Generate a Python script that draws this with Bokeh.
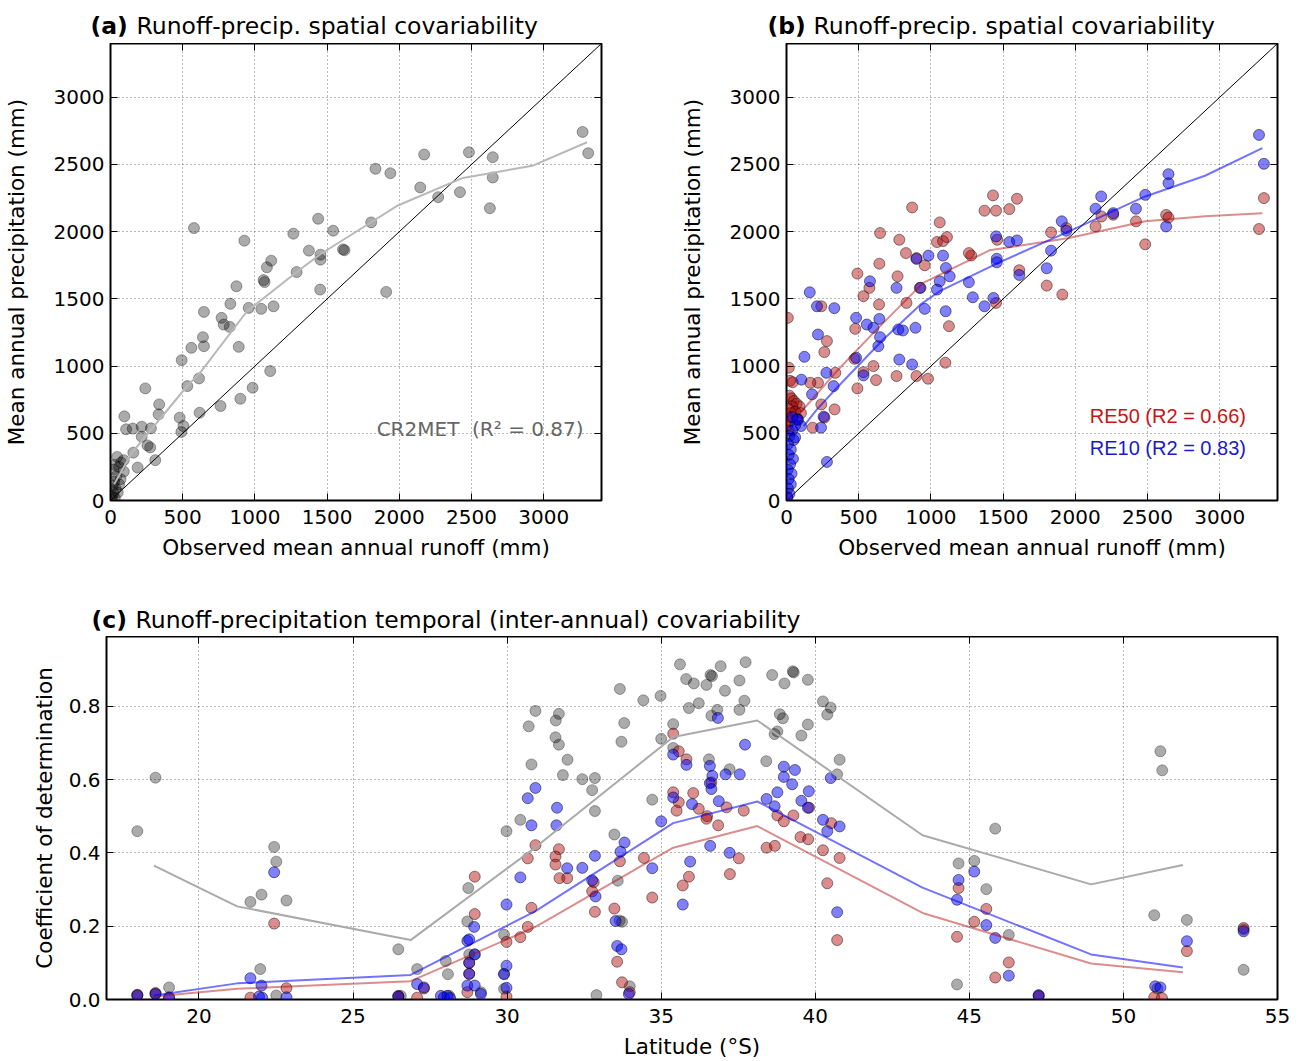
from bokeh.plotting import figure
from bokeh.models import (Label, LinearAxis, CustomJSTickFormatter, FixedTicker,
                          NumeralTickFormatter, Range1d)
from bokeh.core.properties import value
from bokeh.layouts import column, row
from bokeh.embed import file_html
from bokeh.resources import INLINE

# ---------------- data ----------------
# (a) CR2MET: observed runoff vs mean annual precipitation (mm)
a_runoff = [3269, 3308, 2172, 2482, 2647, 2647, 1835, 1938, 2145, 2269, 2420, 2627, 1805, 1438, 1542, 1266,
            578, 927, 1374, 1454, 1454, 1610, 1620, 1289, 1113, 1083, 1060, 1067, 872, 830, 1452, 1909,
            957, 1044, 1129, 647, 769, 784, 826, 640, 647, 560, 888, 493, 1106, 532, 613, 984, 899, 762,
            617, 241, 337, 333, 96, 479, 505, 491, 108, 154, 216, 280, 216, 256, 275, 310, 158, 188,
            46, 74, 92, 92, 60, 30, 20, 40, 25, 60, 15, 35, 50, 20, 10, 30, 8, 70]
a_precip = [2742, 2584, 2574, 2591, 2554, 2403, 2468, 2435, 2329, 2257, 2294, 2175, 2069, 2096, 2007, 1985,
            2027, 1933, 1859, 1829, 1792, 1868, 1862, 1700, 1784, 1735, 1640, 1625, 1594, 1463, 1569, 1552,
            1433, 1426, 1445, 1403, 1359, 1309, 1292, 1215, 1148, 1136, 1143, 1044, 963, 851, 908, 839, 757, 703,
            653, 834, 715, 641, 626, 616, 554, 510, 530, 535, 549, 537, 475, 410, 395, 300, 356, 245,
            324, 282, 300, 215, 250, 265, 230, 180, 140, 120, 110, 90, 60, 55, 30, 20, 5, 160]
a_line_runoff = [25, 145, 530, 620, 945, 1290, 1450, 1805, 1990, 2440, 2920, 3300]
a_line_precip = [120, 350, 850, 950, 1408, 1700, 1830, 2070, 2195, 2400, 2490, 2665]

# (b) RE50 (red) and RE10 (blue)
b_red_runoff = [3306, 3272, 2629, 2645, 2420, 2484, 2140, 2181, 2262, 1938, 1832, 1910, 1802, 1430, 1371, 1451,
                1543, 1596, 870, 1061, 648, 781, 1042, 1084, 1111, 827, 900, 957, 1279, 1263, 1459, 1612,
                643, 491, 769, 533, 574, 831, 923, 641, 241, 476, 280, 262, 338, 471, 491, 602, 533, 620,
                762, 900, 980, 1100, 1125, 1451, 218, 165, 333, 181, 241, 9, 16, 263, 24, 43,
                20, 35, 50, 70, 90, 40, 15, 30, 60, 10, 25, 100, 75, 5, 15, 5]
b_red_precip = [2250, 2020, 2125, 2105, 2077, 1906, 2039, 2113, 2126, 2027, 1995, 1532, 1599, 2270, 2156, 2156,
                2168, 2245, 2180, 2069, 1990, 1940, 1923, 1930, 1960, 1841, 1804, 1750, 1822, 1841, 1940, 1713,
                1762, 1688, 1668, 1520, 1582, 1470, 1582, 1458, 1445, 1277, 1186, 1104, 950, 1054, 834, 1000, 955, 896,
                926, 926, 906, 1025, 1297, 1470, 876, 876, 678, 542, 715, 1359, 988, 617, 890, 880,
                780, 760, 740, 720, 700, 700, 680, 650, 660, 620, 590, 650, 610, 560, 520, 30]
b_blue_runoff = [3272, 3306, 2645, 2645, 2484, 2179, 2140, 2420, 2262, 1906, 1938, 1832, 1802, 2629, 1451, 1543,
                 1596, 1456, 1456, 1612, 1263, 1290, 1371, 1433, 1104, 1130, 1061, 1042, 1084, 983, 900, 928,
                 957, 1102, 578, 762, 643, 556, 602, 648, 636, 482, 774, 806, 893, 781, 870, 533, 482, 161,
                 211, 331, 218, 124, 276, 326, 177, 73, 101, 257, 239, 280, 103,
                 60, 40, 20, 50, 10, 30, 15, 45, 25, 8, 35, 15, 30, 10, 20, 5, 60, 80, 40]
b_blue_precip = [2720, 2505, 2428, 2361, 2274, 2262, 2171, 2171, 2138, 2077, 2007, 1859, 1728, 2039, 1965, 1923,
                 1935, 1799, 1772, 1678, 1624, 1512, 1445, 1507, 1730, 1668, 1631, 1569, 1822, 1822, 1797, 1582,
                 1426, 1408, 1631, 1582, 1351, 1309, 1285, 1215, 1148, 1359, 1272, 1265, 1285, 1049, 1012, 931, 1062, 1549,
                 1445, 1431, 1235, 1069, 950, 851, 790, 604, 554, 624, 542, 287, 899,
                 560, 520, 480, 450, 420, 380, 340, 310, 270, 230, 200, 160, 120, 90, 50, 20, 470, 600, 620]
b_red_line_runoff = [96, 349, 602, 820, 946, 1405, 1956, 2484, 2898, 3295]
b_red_line_precip = [653, 963, 1247, 1483, 1619, 1861, 1953, 2077, 2114, 2138]
b_blue_line_runoff = [119, 211, 349, 670, 934, 1061, 1474, 1956, 2484, 2898, 3295]
b_blue_line_precip = [554, 678, 839, 1198, 1463, 1557, 1772, 2002, 2262, 2416, 2621]

one_to_one = [0, 3400]

# (c) coefficient of determination vs latitude
c_gray_lat = [18.0, 18.59, 19.03, 18.0, 18.59, 22.44, 22.51, 22.03, 21.67, 22.84, 21.99, 22.51, 26.47, 27.08, 26.47,
              28.01, 28.08, 28.74, 28.71, 28.95, 29.15,
              35.61, 36.93, 37.74, 35.81, 36.06, 36.47, 36.6, 36.65, 37.07, 37.54, 38.6, 39.0, 39.27, 39.3, 39.76,
              33.66, 34.42, 34.98, 35.9, 36.22, 36.82, 36.63, 37.54, 37.7, 38.85, 38.95, 38.77, 39.55, 39.76,
              40.25, 40.5, 40.39, 40.79, 40.71, 30.92, 31.68, 31.58, 30.7, 31.57, 31.68, 31.96, 30.79, 31.81,
              32.44, 32.85, 32.76, 32.85, 33.8, 33.71, 34.71, 35.39, 35.0, 35.39, 36.55, 37.22, 38.41, 38.68,
              30.43, 29.98, 33.48, 33.59, 33.73, 29.9, 33.98, 29.9,
              45.84, 44.65, 45.16, 45.55, 46.28, 44.6, 51.0, 51.2, 51.26, 52.06, 53.9, 53.9, 47.25, 51.1,
              28.77, 29.9, 28.12, 33.65, 26.55, 32.9]
c_gray_val = [0.459, 0.605, 0.033, 0.011, 0.015, 0.416, 0.376, 0.286, 0.266, 0.270, 0.083, 0.011, 0.137, 0.083, 0.008,
              0.105, 0.069, 0.304, 0.213, 0.123, 0.02,
              0.914, 0.909, 0.920, 0.874, 0.862, 0.858, 0.885, 0.882, 0.842, 0.870, 0.885, 0.862, 0.895, 0.892, 0.872,
              0.847, 0.816, 0.828, 0.795, 0.808, 0.790, 0.774, 0.790, 0.815, 0.778, 0.767, 0.731, 0.72, 0.75,
              0.813, 0.796, 0.777, 0.654, 0.614, 0.787, 0.779, 0.761, 0.745, 0.715, 0.695, 0.654, 0.641, 0.612,
              0.601, 0.604, 0.571, 0.514, 0.754, 0.703, 0.545, 0.751, 0.711, 0.686, 0.655, 0.628, 0.650, 0.724,
              0.490, 0.459, 0.450, 0.324, 0.212, 0.177, 0.036, 0.029,
              0.466, 0.371, 0.378, 0.301, 0.176, 0.041, 0.230, 0.677, 0.625, 0.217, 0.081, 0.191, 0.012, 0.03,
              0.123, 0.07, 0.01, 0.215, 0.01, 0.012]
c_red_lat = [18.0, 18.59, 19.03, 22.44, 22.84, 21.67, 27.3, 26.47, 27.08, 28.95, 28.95, 28.77, 28.77, 28.71,
             35.39, 35.57, 35.82, 35.39, 35.57, 35.5, 36.04, 36.22, 36.49, 36.47, 36.85, 37.12, 36.63, 37.68,
             37.52, 37.23, 35.9, 35.7, 34.71, 38.42, 38.69, 38.77, 38.98, 39.29, 39.52, 39.77, 39.8, 40.25,
             40.52, 40.79, 40.39, 40.71, 30.92, 30.67, 31.68, 31.57, 31.57, 31.7, 31.95, 32.81, 32.85, 32.76,
             33.66, 34.44, 30.79, 30.67, 30.43, 29.98, 33.48, 33.57, 33.73, 33.98, 29.98,
             44.65, 44.6, 45.16, 45.55, 46.28, 45.84, 47.25, 51.0, 51.25, 52.06, 53.9]
c_red_val = [0.013, 0.018, 0.004, 0.207, 0.031, 0.005, 0.03, 0.01, 0.005, 0.335, 0.233, 0.10, 0.07, 0.02,
             0.725, 0.677, 0.655, 0.565, 0.538, 0.515, 0.563, 0.52, 0.5, 0.493, 0.475, 0.524, 0.592, 0.515,
             0.385, 0.342, 0.335, 0.311, 0.278, 0.414, 0.419, 0.502, 0.486, 0.502, 0.443, 0.437, 0.523, 0.407,
             0.481, 0.386, 0.317, 0.162, 0.421, 0.385, 0.41, 0.39, 0.368, 0.331, 0.331, 0.32, 0.239, 0.295,
             0.377, 0.386, 0.25, 0.198, 0.17, 0.157, 0.248, 0.103, 0.047, 0.02, 0.008,
             0.304, 0.171, 0.212, 0.247, 0.101, 0.06, 0.009, 0.006, 0.004, 0.132, 0.195]
c_blue_lat = [18.0, 18.59, 19.03, 22.44, 21.67, 22.03, 21.95, 22.05, 22.84, 27.08, 27.3, 26.47, 27.85, 27.95,
              28.06, 28.15, 28.93, 28.71, 28.95, 28.77, 28.77, 28.71, 29.15, 28.95,
              30.92, 30.67, 31.62, 31.6, 30.79, 30.43, 31.95, 32.44, 32.85, 32.87, 33.81, 33.68, 34.71, 35.0,
              35.39, 35.82, 36.58, 36.66, 37.09, 37.55, 37.72, 36.84, 36.58, 36.63, 36.0, 36.87, 35.39, 35.94,
              36.59, 37.22, 35.70, 38.98, 39.34, 38.98, 39.25, 39.79, 39.55, 38.42, 38.77, 38.68, 39.76, 40.25,
              40.39, 40.79, 40.71, 40.5, 29.98, 29.98, 29.9, 29.98, 33.52, 33.57, 33.71, 33.95, 32.76,
              44.65, 45.16, 44.6, 45.55, 45.84, 46.28, 47.25, 51.03, 51.2, 52.06, 53.9, 28.77]
c_blue_val = [0.011, 0.015, 0.006, 0.347, 0.058, 0.038, 0.008, 0.005, 0.006, 0.042, 0.033, 0.008, 0.01, 0.006,
              0.01, 0.004, 0.198, 0.16, 0.123, 0.10, 0.07, 0.038, 0.015, 0.038,
              0.577, 0.549, 0.523, 0.475, 0.475, 0.333, 0.358, 0.359, 0.392, 0.281, 0.428, 0.403, 0.358, 0.486,
              0.668, 0.640, 0.637, 0.610, 0.614, 0.614, 0.695, 0.768, 0.590, 0.574, 0.533, 0.541, 0.551, 0.376,
              0.419, 0.400, 0.259, 0.635, 0.626, 0.607, 0.587, 0.568, 0.542, 0.547, 0.565, 0.527, 0.523, 0.490,
              0.459, 0.472, 0.238, 0.604, 0.259, 0.092, 0.069, 0.032, 0.214, 0.146, 0.137, 0.015, 0.325,
              0.326, 0.349, 0.272, 0.203, 0.168, 0.065, 0.011, 0.036, 0.033, 0.159, 0.186, 0.164]
c_line_lat = [18.54, 21.24, 26.87, 30.92, 35.39, 38.12, 43.48, 48.95, 51.93]
c_gray_line = [0.365, 0.254, 0.162, 0.415, 0.716, 0.761, 0.448, 0.314, 0.367]
c_red_line = [0.008, 0.029, 0.050, 0.198, 0.414, 0.473, 0.236, 0.098, 0.074]
c_blue_line = [0.011, 0.044, 0.067, 0.241, 0.481, 0.540, 0.305, 0.123, 0.087]

ab_ticks = [0, 500, 1000, 1500, 2000, 2500, 3000]
c_xticks = [20, 25, 30, 35, 40, 45, 50, 55]
c_yticks = [0.0, 0.2, 0.4, 0.6, 0.8]

# panel titles
title_letters = ["(a)", "(b)"]
title_texts = ["Runoff-precip. spatial covariability", "Runoff-precip. spatial covariability"]
title_c_letter = ["(c)"]
title_c_text = ["Runoff-precipitation temporal (inter-annual) covariability"]

# ---------------- styling helpers ----------------
FONT = "DejaVu Sans"
RED = "#b00000"
BLUE = "#0000ff"
W = 1299


def make_fig(width, height, xr, yr, ml, mr, mt, mb):
    p = figure(width=width, height=height, x_range=Range1d(*xr), y_range=Range1d(*yr),
               min_border_left=ml, min_border_right=mr, min_border_top=mt, min_border_bottom=mb,
               output_backend="svg", toolbar_location=None, tools="")
    p.outline_line_color = "black"
    p.outline_line_width = 2
    p.outline_line_alpha = 1
    p.background_fill_color = "white"
    p.border_fill_color = "white"
    return p


def style_axes(p, xticks, yticks, xlabel, ylabel, yfmt=None, ylab_standoff=20):
    xa = p.xaxis[0]
    ya = p.yaxis[0]
    xa.ticker = FixedTicker(ticks=xticks)
    ya.ticker = FixedTicker(ticks=yticks)
    if yfmt is not None:
        ya.formatter = yfmt
    xa.axis_label = xlabel
    ya.axis_label = ylabel
    for ax in (xa, ya):
        ax.major_tick_in = 7
        ax.major_tick_out = 0
        ax.minor_tick_line_color = None
        ax.axis_line_color = None
        ax.major_tick_line_color = "black"
        ax.major_label_text_font = FONT
        ax.major_label_text_font_size = "20px"
        ax.major_label_text_color = "black"
        ax.axis_label_text_font = FONT
        ax.axis_label_text_font_size = "21.5px"
        ax.axis_label_text_font_style = "normal"
        ax.axis_label_text_color = "black"
    xa.major_label_standoff = 9
    xa.axis_label_standoff = 8
    ya.major_label_standoff = 6
    ya.axis_label_standoff = ylab_standoff
    for g in (p.xgrid[0], p.ygrid[0]):
        g.grid_line_color = "black"
        g.grid_line_alpha = 0.55
        g.grid_line_dash = "1 3"
        g.grid_line_width = 1
    for side, ticks in (("above", xticks), ("right", yticks)):
        ax = LinearAxis(ticker=FixedTicker(ticks=ticks),
                        formatter=CustomJSTickFormatter(code="return ''"),
                        major_tick_in=7, major_tick_out=0, minor_tick_line_color=None,
                        axis_line_color=None, major_label_text_font_size="0px",
                        major_label_standoff=0)
        p.add_layout(ax, side)


def title_strip(height, letters, texts, letter_x, text_x, yc):
    # a blank strip whose data units equal pixels (y counted from the top)
    s = figure(width=W, height=height, x_range=Range1d(0, W), y_range=Range1d(height, 0),
               min_border=0, x_axis_type=None, y_axis_type=None, output_backend="svg",
               toolbar_location=None, tools="")
    s.outline_line_color = None
    s.xgrid.visible = False
    s.ygrid.visible = False
    s.background_fill_color = "white"
    s.border_fill_color = "white"
    s.text(x=letter_x, y=[yc] * len(letters), text=letters, text_font=value(FONT),
           text_font_style="bold", text_font_size="23.5px", text_baseline="middle", text_color="black")
    s.text(x=text_x, y=[yc] * len(texts), text=texts, text_font=value(FONT),
           text_font_style="normal", text_font_size="23.5px", text_baseline="middle", text_color="black")
    return s


def pts(p, x, y, color, alpha):
    p.scatter(x, y, size=11, marker="circle", fill_color=color, fill_alpha=alpha,
              line_color="black", line_alpha=alpha, line_width=1)


# ---------------- title strips ----------------
strip_ab = title_strip(43, title_letters, title_texts, [90, 767], [136, 813], 25)
strip_c = title_strip(61, title_c_letter, title_c_text, [91], [135], 44)

# ---------------- panel (a) ----------------
pa = make_fig(676, 532, (0, 3400), (0, 3400), 106, 75, 0, 75)
style_axes(pa, ab_ticks, ab_ticks, "Observed mean annual runoff (mm)", "Mean annual precipitation (mm)",
           ylab_standoff=22)
pa.line(one_to_one, one_to_one, line_color="black", line_width=1)
pts(pa, a_runoff, a_precip, "black", 0.33)
pa.line(a_line_runoff, a_line_precip, line_color="#b8b8b8", line_width=2)
pa.add_layout(Label(x=3276, y=535, text="CR2MET\u00a0 (R\u00b2 = 0.87)", text_align="right",
                    text_baseline="middle", text_font=FONT, text_font_size="20px", text_color="#666666"))

# ---------------- panel (b) ----------------
pb = make_fig(623, 532, (0, 3400), (0, 3400), 106, 22, 0, 75)
style_axes(pb, ab_ticks, ab_ticks, "Observed mean annual runoff (mm)", "Mean annual precipitation (mm)",
           ylab_standoff=22)
pb.line(one_to_one, one_to_one, line_color="black", line_width=1)
pts(pb, b_red_runoff, b_red_precip, RED, 0.45)
pts(pb, b_blue_runoff, b_blue_precip, BLUE, 0.5)
pb.line(b_red_line_runoff, b_red_line_precip, line_color=RED, line_alpha=0.45, line_width=2)
pb.line(b_blue_line_runoff, b_blue_line_precip, line_color=BLUE, line_alpha=0.55, line_width=2)
pb.add_layout(Label(x=2100, y=632, text="RE50 (R2 = 0.66)", text_align="left", text_baseline="middle",
                    text_font="Liberation Sans", text_font_size="20px", text_color="#c81414"))
pb.add_layout(Label(x=2100, y=394, text="RE10 (R2 = 0.83)", text_align="left", text_baseline="middle",
                    text_font="Liberation Sans", text_font_size="20px", text_color="#1a1acc"))

# ---------------- panel (c) ----------------
pc = make_fig(W, 425, (17, 55), (0, 0.99), 106, 22, 0, 59)
style_axes(pc, c_xticks, c_yticks, "Latitude (\u00b0S)", "Coefficient of determination",
           yfmt=NumeralTickFormatter(format="0.0"), ylab_standoff=9)
pts(pc, c_gray_lat, c_gray_val, "black", 0.33)
pts(pc, c_red_lat, c_red_val, RED, 0.45)
pts(pc, c_blue_lat, c_blue_val, BLUE, 0.5)
pc.line(c_line_lat, c_gray_line, line_color="#aaaaaa", line_width=2)
pc.line(c_line_lat, c_red_line, line_color=RED, line_alpha=0.45, line_width=2)
pc.line(c_line_lat, c_blue_line, line_color=BLUE, line_alpha=0.55, line_width=2)

layout = column(row(strip_ab, spacing=0), row(pa, pb, spacing=0), row(strip_c, spacing=0),
                row(pc, spacing=0), spacing=0)
open("out.html", "w").write(file_html(layout, INLINE))
